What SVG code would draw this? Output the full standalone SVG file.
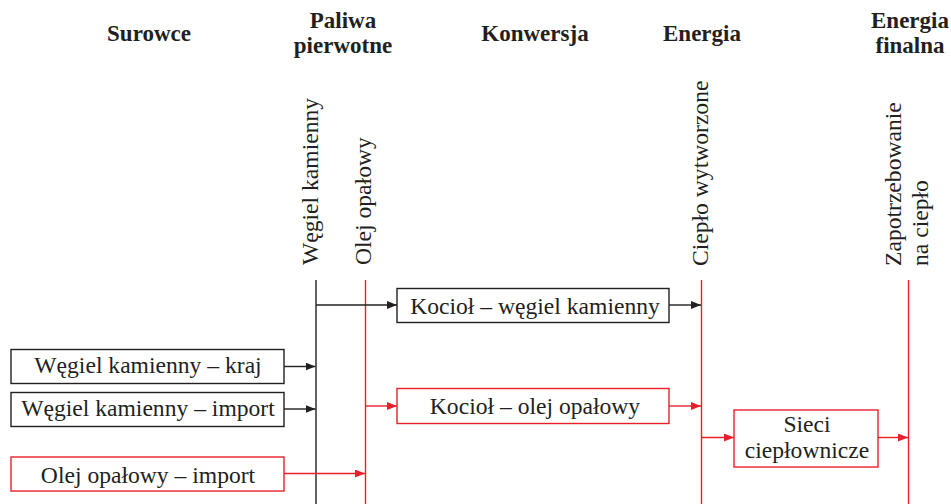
<svg xmlns="http://www.w3.org/2000/svg" width="951" height="504" viewBox="0 0 951 504">
<style>
text{font-family:"Liberation Serif","Times New Roman",serif;fill:#231f20;font-size:23.6px}
.h{font-weight:bold;text-anchor:middle;font-size:23px}
.c{text-anchor:middle}
.bk{fill:#fff;stroke:#231f20;stroke-width:1.4}
.rd{fill:#fff;stroke:#e8202a;stroke-width:1.4}
.lk{stroke:#231f20;stroke-width:1.4;fill:none}
.lr{stroke:#e8202a;stroke-width:1.4;fill:none}
</style>
<defs>
<marker id="ak" viewBox="0 0 10 8" refX="10" refY="4" markerWidth="10" markerHeight="8" markerUnits="userSpaceOnUse" orient="auto"><path d="M0,0L10,4L0,8z" fill="#231f20"/></marker>
<marker id="ar" viewBox="0 0 10 8" refX="10" refY="4" markerWidth="10" markerHeight="8" markerUnits="userSpaceOnUse" orient="auto"><path d="M0,0L10,4L0,8z" fill="#e8202a"/></marker>
</defs>
<rect width="951" height="504" fill="#fff"/>
<g id="headers">
<text class="h" x="149" y="41">Surowce</text>
<text class="h" x="343" y="28">Paliwa</text>
<text class="h" x="343" y="53">pierwotne</text>
<text class="h" x="535" y="41">Konwersja</text>
<text class="h" x="702" y="41">Energia</text>
<text class="h" x="910" y="28">Energia</text>
<text class="h" x="910" y="53">finalna</text>
</g>
<g id="connectors">
<line class="lk" x1="316" y1="280" x2="316" y2="504"/>
<line class="lr" x1="365.5" y1="280" x2="365.5" y2="504"/>
<line class="lr" x1="701.5" y1="280" x2="701.5" y2="504"/>
<line class="lr" x1="908.5" y1="280" x2="908.5" y2="504"/>
<line class="lk" x1="316" y1="305" x2="397" y2="305" marker-end="url(#ak)"/>
<line class="lk" x1="669" y1="305" x2="701" y2="305" marker-end="url(#ak)"/>
<line class="lk" x1="284" y1="366.5" x2="315.5" y2="366.5" marker-end="url(#ak)"/>
<line class="lk" x1="284" y1="409" x2="315.5" y2="409" marker-end="url(#ak)"/>
<line class="lr" x1="284" y1="473.5" x2="365" y2="473.5" marker-end="url(#ar)"/>
<line class="lr" x1="365.5" y1="406" x2="397" y2="406" marker-end="url(#ar)"/>
<line class="lr" x1="669" y1="406" x2="701" y2="406" marker-end="url(#ar)"/>
<line class="lr" x1="701.5" y1="437.5" x2="734" y2="437.5" marker-end="url(#ar)"/>
<line class="lr" x1="878" y1="437.5" x2="908" y2="437.5" marker-end="url(#ar)"/>
</g>
<g id="label-wegiel">
<text transform="translate(318,265) rotate(-90)">Węgiel kamienny</text>
</g>
<g id="label-olej">
<text transform="translate(371,265) rotate(-90)">Olej opałowy</text>
</g>
<g id="label-cieplo">
<text transform="translate(708,266) rotate(-90)">Ciepło wytworzone</text>
</g>
<g id="label-zapotrzebowanie">
<text transform="translate(901,266) rotate(-90)">Zapotrzebowanie</text>
<text transform="translate(928,266) rotate(-90)">na ciepło</text>
</g>
<g id="node-kraj">
<rect class="bk" x="11" y="349.5" width="273" height="34"/>
<text class="c" x="148" y="373">Węgiel kamienny – kraj</text>
</g>
<g id="node-import">
<rect class="bk" x="11" y="392.5" width="273" height="34"/>
<text class="c" x="148" y="415.5">Węgiel kamienny – import</text>
</g>
<g id="node-olej-import">
<rect class="rd" x="11" y="457" width="273" height="34"/>
<text class="c" x="148" y="482.5">Olej opałowy – import</text>
</g>
<g id="node-kociol-wegiel">
<rect class="bk" x="397" y="288.5" width="272" height="34"/>
<text class="c" x="535" y="313.5">Kocioł – węgiel kamienny</text>
</g>
<g id="node-kociol-olej">
<rect class="rd" x="397" y="388.5" width="272" height="35"/>
<text class="c" x="535" y="413.5">Kocioł – olej opałowy</text>
</g>
<g id="node-sieci">
<rect class="rd" x="734" y="410" width="144" height="57"/>
<text class="c" x="807" y="432">Sieci</text>
<text class="c" x="807" y="457.5">ciepłownicze</text>
</g>
</svg>
